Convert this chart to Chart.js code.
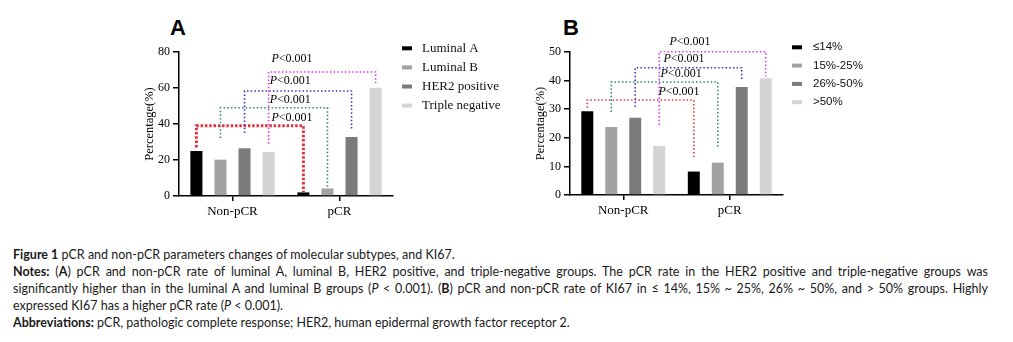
<!DOCTYPE html>
<html>
<head>
<meta charset="utf-8">
<script src="https://cdn.jsdelivr.net/npm/chart.js@4"></script>
<style>
  body { margin: 0; background: #fff; width: 1013px; height: 342px; position: relative; overflow: hidden; }
  canvas { position: absolute; top: 0; }
  #chartA { left: 0; }
  #chartB { left: 505px; }
  .panel { position: absolute; top: 15px; font: bold 22px "Liberation Sans", Arial, sans-serif; color: #000; }
  #caption { position: absolute; left: 13px; top: 246px; font-family: Lato, "Open Sans", sans-serif; font-size: 12.5px; line-height: 17px; color: #1a1a1a; }
  #caption div { white-space: nowrap; }
  #caption .j { width: 975px; text-align: justify; text-align-last: justify; white-space: normal; }
</style>
</head>
<body>
<div class="panel" style="left:170px">A</div>
<div class="panel" style="left:563px">B</div>
<canvas id="chartA" width="505" height="225"></canvas>
<canvas id="chartB" width="508" height="225"></canvas>
<div id="caption">
  <div><b>Figure 1</b> pCR and non-pCR parameters changes of molecular subtypes, and KI67.</div>
  <div class="j"><b>Notes:</b> (<b>A</b>) pCR and non-pCR rate of luminal A, luminal B, HER2 positive, and triple-negative groups. The pCR rate in the HER2 positive and triple-negative groups was</div>
  <div class="j">significantly higher than in the luminal A and luminal B groups (<i>P</i> &lt; 0.001). (<b>B</b>) pCR and non-pCR rate of KI67 in ≤ 14%, 15% ~ 25%, 26% ~ 50%, and &gt; 50% groups. Highly</div>
  <div>expressed KI67 has a higher pCR rate (<i>P</i> &lt; 0.001).</div>
  <div><b>Abbreviations:</b> pCR, pathologic complete response; HER2, human epidermal growth factor receptor 2.</div>
</div>
<script>
// groups on the x axis
const groups = ['Non-pCR', 'pCR']

// panel A: molecular subtypes (%)
const subtypeNames = ['Luminal A', 'Luminal B', 'HER2 positive', 'Triple negative']
const luminalA = [25, 2]
const luminalB = [20.2, 4.2]
const her2Pos = [26.5, 32.8]
const tripleNeg = [24.5, 60.2]

// panel B: KI67 (%)
const ki67Names = ['≤14%', '15%-25%', '26%-50%', '>50%']
const ki67Low = [29.3, 8.2]
const ki67Mid = [23.8, 11.3]
const ki67High = [27, 37.8]
const ki67Top = [17.1, 40.8]

// significance brackets (values in %)
const pText = '<0.001'
const bracketTopA = [39, 49, 58.3, 68.9]
const bracketFromA = [27, 32.2, 35, 29]
const bracketToA = [2.2, 5, 36.7, 61.7]
const bracketTopB = [33.2, 39.5, 44.5, 50.1]
const bracketFromB = [30.4, 29, 30.8, 24.5]
const bracketToB = [13.3, 16.4, 40.2, 41.4]

const barColors = ['#000000', '#a2a2a5', '#7b7b7b', '#d4d4d4']
const dotColors = ['#e23440', '#2e8674', '#3636b4', '#d23fe2']
const serif = '"Liberation Serif", "DejaVu Serif", serif'

Chart.defaults.color = '#000'
Chart.defaults.font.family = serif

// dotted brackets + P labels, anchored to the bars
const bracketPlugin = {
    id: 'brackets',
    afterDatasetsDraw(chart, args, opts) {
        const ctx = chart.ctx
        const y = chart.scales.y
        const x = chart.scales.x
        ctx.save()
        opts.top.forEach((top, i) => {
            const bars = chart.getDatasetMeta(i).data
            const x0 = bars[0].x, x1 = bars[1].x
            const yt = y.getPixelForValue(top)
            ctx.strokeStyle = dotColors[i]
            ctx.lineWidth = opts.widths[i]
            ctx.setLineDash(opts.widths[i] > 2 ? [2.5, 1.8] : [1.5, 2.2])
            ctx.beginPath()
            ctx.moveTo(x0, y.getPixelForValue(opts.from[i]))
            ctx.lineTo(x0, yt)
            ctx.lineTo(x1, yt)
            ctx.lineTo(x1, y.getPixelForValue(opts.to[i]))
            ctx.stroke()
        })
        ctx.setLineDash([])
        // labels
        ctx.textBaseline = 'middle'
        ctx.fillStyle = '#000'
        opts.top.forEach((top, i) => {
            const cx = x.getPixelForValue(opts.labelX[i])
            const cy = y.getPixelForValue(opts.labelY[i])
            ctx.font = 'italic 12px ' + serif
            const w1 = ctx.measureText('P').width
            ctx.font = '12px ' + serif
            const w2 = ctx.measureText(pText).width
            let sx = cx - (w1 + w2) / 2
            ctx.font = 'italic 12px ' + serif
            ctx.textAlign = 'left'
            ctx.fillText('P', sx, cy)
            ctx.font = '12px ' + serif
            ctx.fillText(pText, sx + w1, cy)
        })
        ctx.restore()
    }
}

// legend drawn to the right of the plot, short thick marks
const sideLegend = {
    id: 'sideLegend',
    afterDraw(chart, args, opts) {
        const ctx = chart.ctx
        const area = chart.chartArea
        ctx.save()
        ctx.font = opts.font
        ctx.textBaseline = 'middle'
        ctx.textAlign = 'left'
        chart.data.datasets.forEach((ds, i) => {
            const cy = area.top + opts.dy + i * opts.step
            ctx.fillStyle = ds.backgroundColor
            ctx.fillRect(area.right + 9, cy - 2, 10, 4)
            ctx.fillStyle = '#111'
            ctx.fillText(ds.label, area.right + opts.textDx, cy)
        })
        ctx.restore()
    }
}

function makeChart(id, names, series, yMax, step, pad, brackets, legend) {
    return new Chart(document.getElementById(id), {
        type: 'bar',
        data: {
            labels: groups,
            datasets: series.map((vals, i) => ({
                label: names[i],
                data: vals,
                backgroundColor: barColors[i],
                categoryPercentage: 0.9,
                barPercentage: 0.5
            }))
        },
        options: {
            responsive: false,
            animation: false,
            devicePixelRatio: 1,
            layout: { padding: pad },
            plugins: {
                legend: { display: false },
                tooltip: { enabled: false },
                brackets: brackets,
                sideLegend: legend
            },
            scales: {
                x: {
                    afterFit: s => { s.height = 29 },
                    border: { color: '#000', width: 1.5 },
                    grid: { offset: false, drawOnChartArea: false, color: '#000', lineWidth: 1.5, tickLength: 5 },
                    ticks: { font: { size: 13 }, padding: 3 }
                },
                y: {
                    min: 0,
                    max: yMax,
                    afterFit: s => { s.width = 43 },
                    border: { color: '#000', width: 1.5 },
                    grid: { drawOnChartArea: false, color: '#000', lineWidth: 1.5, tickLength: 6 },
                    ticks: { stepSize: step, font: { size: 12 }, padding: 3 },
                    title: { display: true, text: 'Percentage(%)', font: { size: 12.5 }, padding: { top: 6, bottom: 0 } }
                }
            }
        },
        plugins: [bracketPlugin, sideLegend]
    })
}

makeChart('chartA', subtypeNames, [luminalA, luminalB, her2Pos, tripleNeg], 80, 20,
    { left: 136, top: 52, right: 112, bottom: 0 },
    { top: bracketTopA, from: bracketFromA, to: bracketToA,
      widths: [3, 1.6, 1.6, 1.6],
      labelX: [0.556, 0.54, 0.54, 0.556], labelY: [43.6, 53.3, 63.9, 76.1] },
    { font: '13px ' + serif, dy: -3.7, step: 19.1, textDx: 29 })

makeChart('chartB', ki67Names, [ki67Low, ki67Mid, ki67High, ki67Top], 50, 10,
    { left: 22, top: 52, right: 230, bottom: 1 },
    { top: bracketTopB, from: bracketFromB, to: bracketToB,
      widths: [1.6, 1.6, 1.6, 1.6],
      labelX: [0.524, 0.543, 0.571, 0.627], labelY: [36, 42.3, 47.6, 53.5] },
    { font: '11.5px "Liberation Sans", Arial, sans-serif', dy: -4.7, step: 18.3, textDx: 30 })
</script>
</body>
</html>
